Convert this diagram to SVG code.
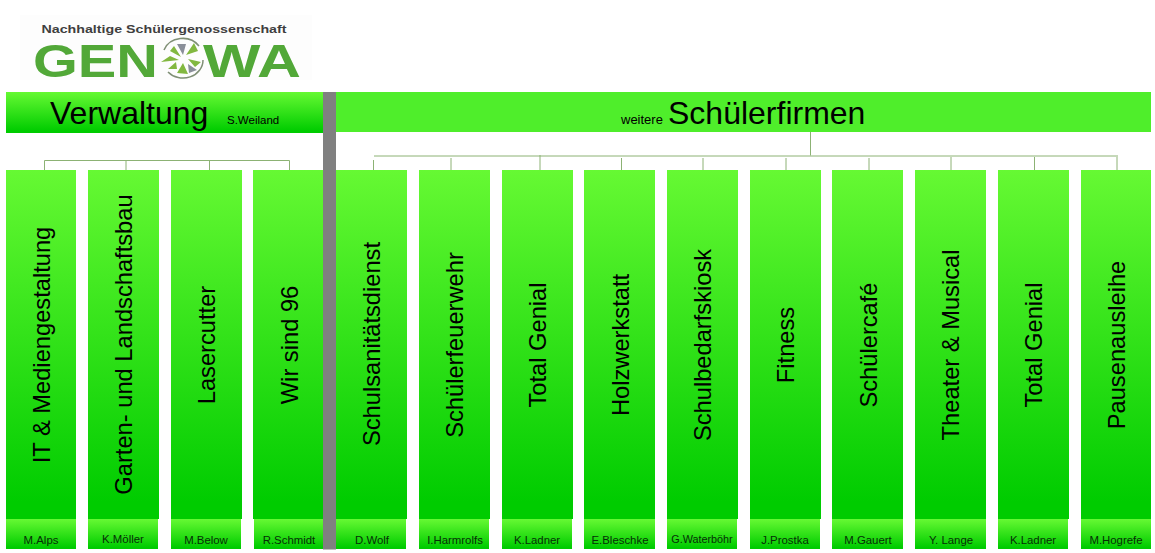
<svg xmlns="http://www.w3.org/2000/svg" width="1155" height="553" viewBox="0 0 1155 553">
<style>
text{font-family:"Liberation Sans",Arial,sans-serif;fill:#000}
.t{font-size:23.7px;text-anchor:middle}
.n{font-size:11.4px;text-anchor:middle;fill:#062e06}
.box{fill:url(#g)}
.c{stroke:#8cb274;stroke-width:1;fill:none}
.logo{font-weight:bold;fill:#52a838;font-size:47px}
</style>
<defs>
<linearGradient id="g" x1="0" y1="0" x2="0" y2="1"><stop offset="0" stop-color="#66f933"/><stop offset="0.95" stop-color="#00cc00"/><stop offset="1" stop-color="#00cc00"/></linearGradient>
</defs>
<rect width="1155" height="553" fill="#fff"/>
<g id="logo">
<rect x="20" y="15" width="292" height="65" fill="#fdfdfd"/>
<text x="41.500" y="32.500" font-size="11.500" font-weight="bold" style="fill:#3f3f3f" textLength="245" lengthAdjust="spacingAndGlyphs">Nachhaltige Schülergenossenschaft</text>
<text class="logo" x="33" y="77" textLength="125" lengthAdjust="spacingAndGlyphs">GEN</text>
<text class="logo" x="203" y="77" textLength="98" lengthAdjust="spacingAndGlyphs">WA</text>
<path d="M164 50A20 18 0 0 1 199 46M203 60A20 18 0 0 1 168 72" fill="none" stroke="#7f8f75" stroke-width="1.500"/>
<path d="M170 51L181 57L174 46ZM186 55L194 43L198 51ZM188 59L201 62L195 67ZM183 63L188 74L177 73ZM179 60L161 62L170 56ZM176 62L168 69L177 69Z" fill="#82b840"/>
<path d="M177 44L186 44L183 55ZM188 64L197 70L189 73Z" fill="#8a8f99"/>
</g>
<g id="connectors">
<path class="c" d="M44.500 170V160.500H289.500V170M126 160V170M209.500 160V170"/>
<path class="c" d="M810.500 132V155.500M374 156H1118M373.500 160V171M451 158V170M540 155V170M621.500 158V170M703 158V170M786 158V170M869 158V170M951 157V170M1034.500 157V170M1117 157V170"/>
</g>
<g id="verwaltung"><rect class="box" x="6" y="92" width="317" height="41"/>
<text x="50" y="124" font-size="32">Verwaltung</text><text x="227" y="124" font-size="11.500">S.Weiland</text></g>
<g id="schuelerfirmen"><rect x="336" y="92" width="815" height="40" fill="#4fee2b"/>
<text x="621" y="124" font-size="13">weitere</text><text x="668" y="124" font-size="32">Schülerfirmen</text></g>
<g id="n1"><rect class="box" x="6" y="170" width="70" height="349"/><text class="t" transform="translate(50 345) rotate(-90)">IT &amp; Mediengestaltung</text><rect class="box" x="6" y="519" width="70" height="30"/><text class="n" x="41" y="544">M.Alps</text></g>
<g id="n2"><rect class="box" x="88" y="170" width="71" height="349"/><text class="t" transform="translate(132 344.500) rotate(-90)">Garten- und Landschaftsbau</text><rect class="box" x="88" y="519" width="70" height="30"/><text class="n" x="123" y="543">K.Möller</text></g>
<g id="n3"><rect class="box" x="171" y="170" width="71" height="349"/><text class="t" transform="translate(215 345) rotate(-90)">Lasercutter</text><rect class="box" x="171" y="519" width="70" height="30"/><text class="n" x="206" y="544">M.Below</text></g>
<g id="n4"><rect class="box" x="253" y="170" width="71" height="349"/><text class="t" transform="translate(298 345) rotate(-90)">Wir sind 96</text><rect class="box" x="254" y="519" width="70" height="30"/><text class="n" x="289" y="544">R.Schmidt</text></g>
<rect id="bar" x="323" y="92" width="13" height="457.500" fill="#808080"/>
<g id="n5"><rect class="box" x="336" y="170" width="71" height="349"/><text class="t" transform="translate(380 344) rotate(-90)">Schulsanitätsdienst</text><rect class="box" x="336" y="519" width="70" height="30"/><text class="n" x="372" y="544">D.Wolf</text></g>
<g id="n6"><rect class="box" x="419" y="170" width="71" height="349"/><text class="t" transform="translate(463 345) rotate(-90)">Schülerfeuerwehr</text><rect class="box" x="419" y="519" width="70" height="30"/><text class="n" x="455" y="544">I.Harmrolfs</text></g>
<g id="n7"><rect class="box" x="502" y="170" width="71" height="349"/><text class="t" transform="translate(546 345) rotate(-90)">Total Genial</text><rect class="box" x="502" y="519" width="70" height="30"/><text class="n" x="537" y="544">K.Ladner</text></g>
<g id="n8"><rect class="box" x="584" y="170" width="71" height="349"/><text class="t" transform="translate(629 345) rotate(-90)">Holzwerkstatt</text><rect class="box" x="584" y="519" width="71" height="30"/><text class="n" x="620" y="544">E.Bleschke</text></g>
<g id="n9"><rect class="box" x="667" y="170" width="71" height="349"/><text class="t" transform="translate(711 345) rotate(-90)">Schulbedarfskiosk</text><rect class="box" x="667" y="519" width="70" height="30"/><text class="n" x="702" y="543" style="font-size:10.800px">G.Waterböhr</text></g>
<g id="n10"><rect class="box" x="750" y="170" width="71" height="349"/><text class="t" transform="translate(794 345) rotate(-90)">Fitness</text><rect class="box" x="750" y="519" width="70" height="30"/><text class="n" x="785" y="544">J.Prostka</text></g>
<g id="n11"><rect class="box" x="832" y="170" width="71" height="349"/><text class="t" transform="translate(877 345) rotate(-90)">Schülercafé</text><rect class="box" x="832" y="519" width="71" height="30"/><text class="n" x="868" y="544">M.Gauert</text></g>
<g id="n12"><rect class="box" x="915" y="170" width="71" height="349"/><text class="t" transform="translate(959 345) rotate(-90)">Theater &amp; Musical</text><rect class="box" x="915" y="519" width="71" height="30"/><text class="n" x="951" y="544">Y. Lange</text></g>
<g id="n13"><rect class="box" x="998" y="170" width="71" height="349"/><text class="t" transform="translate(1042 345) rotate(-90)">Total Genial</text><rect class="box" x="998" y="519" width="70" height="30"/><text class="n" x="1033" y="544">K.Ladner</text></g>
<g id="n14"><rect class="box" x="1081" y="170" width="70" height="349"/><text class="t" transform="translate(1125 345) rotate(-90)">Pausenausleihe</text><rect class="box" x="1081" y="519" width="70" height="30"/><text class="n" x="1116" y="544">M.Hogrefe</text></g>
</svg>
